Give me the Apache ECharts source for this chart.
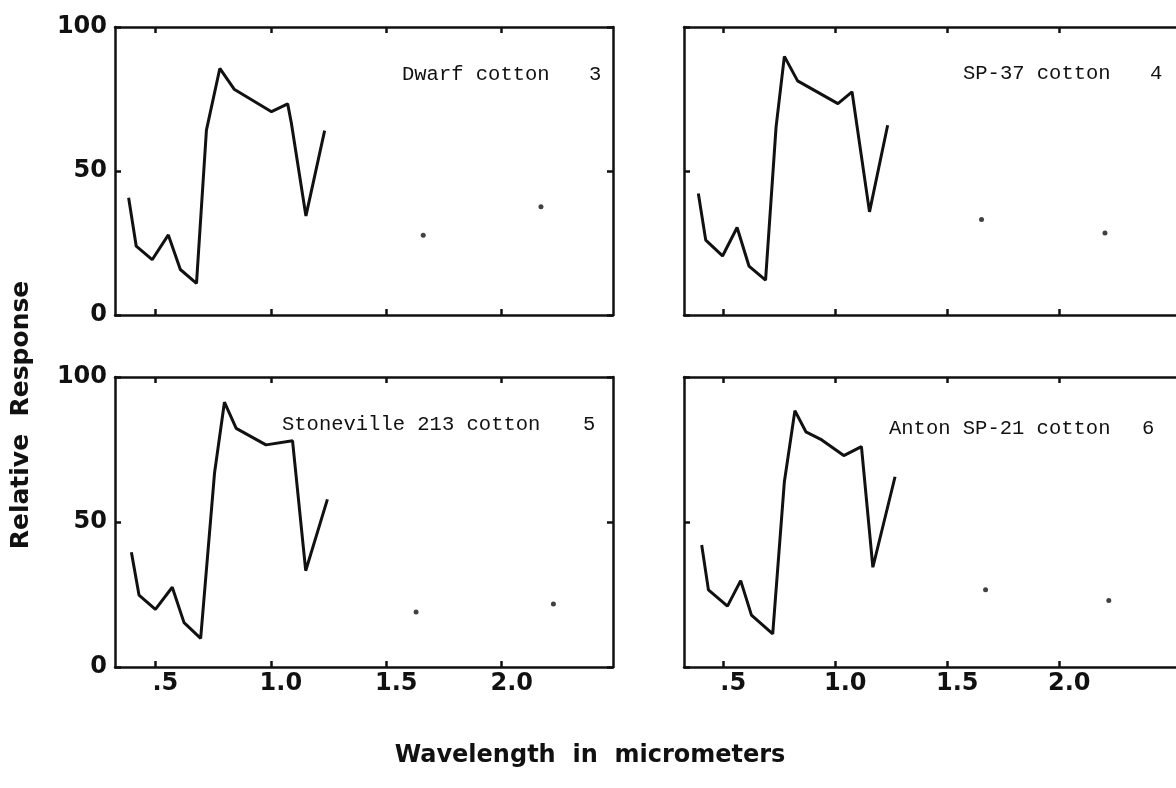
<!DOCTYPE html>
<html>
<head>
<meta charset="utf-8">
<title>Relative response of cotton leaves</title>
<script src="https://cdn.jsdelivr.net/npm/echarts@6/dist/echarts.min.js"></script>
<style>
  html, body { margin: 0; padding: 0; background: #fff; }
  #chart { width: 1176px; height: 788px; }
</style>
</head>
<body>
<div id="chart"></div>
<script>
// wavelength (micrometers) / relative response
const dwarfWl = [0.384, 0.417, 0.486, 0.556, 0.608, 0.678, 0.721, 0.779, 0.841, 1.003, 1.073, 1.089, 1.152, 1.233]
const dwarfResp = [40.7, 23.9, 19.2, 27.8, 15.8, 11.0, 64.2, 85.6, 78.4, 70.6, 73.3, 66.6, 34.4, 64.0]
const dwarfDots = [[1.66, 27.7], [2.17, 37.6]]

const sp37Wl = [0.389, 0.422, 0.497, 0.562, 0.615, 0.689, 0.736, 0.773, 0.832, 1.012, 1.075, 1.153, 1.234]
const sp37Resp = [42.2, 26.0, 20.5, 30.4, 17.0, 12.1, 65.3, 89.8, 81.3, 73.4, 77.5, 35.8, 65.9]
const sp37Dots = [[1.653, 33.2], [2.204, 28.5]]

const stonevilleWl = [0.396, 0.429, 0.5, 0.573, 0.624, 0.696, 0.756, 0.799, 0.85, 0.979, 1.094, 1.151, 1.245]
const stonevilleResp = [39.6, 24.8, 19.9, 27.5, 15.3, 9.9, 66.8, 91.3, 82.3, 76.6, 78.0, 33.2, 57.8]
const stonevilleDots = [[1.629, 19.0], [2.224, 21.7]]

const antonWl = [0.404, 0.434, 0.519, 0.578, 0.626, 0.721, 0.773, 0.82, 0.869, 0.94, 1.038, 1.117, 1.168, 1.267]
const antonResp = [42.1, 26.6, 21.0, 29.8, 17.9, 11.4, 63.9, 88.4, 81.1, 78.3, 72.9, 76.0, 34.4, 65.6]
const antonDots = [[1.671, 26.6], [2.221, 22.9]]

const xTickValues = [0.5, 1.0, 1.5, 2.0]
const xTickLabels = ['.5', '1.0', '1.5', '2.0']

const panels = [
  { label: 'Dwarf cotton', num: '3', wl: dwarfWl, resp: dwarfResp, dots: dwarfDots },
  { label: 'SP-37 cotton', num: '4', wl: sp37Wl, resp: sp37Resp, dots: sp37Dots },
  { label: 'Stoneville 213 cotton', num: '5', wl: stonevilleWl, resp: stonevilleResp, dots: stonevilleDots },
  { label: 'Anton SP-21 cotton', num: '6', wl: antonWl, resp: antonResp, dots: antonDots }
]

// panel boxes (right hand panels run off the page like in the scan)
const boxes = [
  { left: 115, top: 27, width: 498, height: 288, xMax: 2.482 },
  { left: 684, top: 27, width: 497, height: 288, xMax: 2.521 },
  { left: 115, top: 377, width: 498, height: 290, xMax: 2.482 },
  { left: 684, top: 377, width: 497, height: 290, xMax: 2.521 }
]
// where the typed panel labels sit
const labelPos = [
  { x: 402, y: 75, nx: 589 },
  { x: 963, y: 74, nx: 1150 },
  { x: 282, y: 425, nx: 583 },
  { x: 889, y: 429, nx: 1142 }
]

const ink = '#111'
const tickFont = { color: ink, fontFamily: 'DejaVu Sans', fontWeight: 'bold', fontSize: 24 }
const typeFont = '20.5px "Liberation Mono", "DejaVu Sans Mono", monospace'

const chart = echarts.init(document.getElementById('chart'))

const grid = []
const xAxis = []
const yAxis = []
const series = []
const graphic = []

panels.forEach((p, i) => {
  const b = boxes[i]
  const leftSide = i % 2 === 0
  grid.push({ left: b.left, top: b.top, width: b.width, height: b.height, show: false })

  const lineStyle = { color: ink, width: 2.5 }
  const xBase = {
    gridIndex: i, type: 'value', min: 0.325, max: b.xMax,
    axisLine: { show: true, onZero: false, lineStyle },
    axisTick: { show: true, inside: true, length: 6, customValues: xTickValues, lineStyle },
    splitLine: { show: false }
  }
  xAxis.push(Object.assign({}, xBase, {
    position: 'bottom',
    axisLabel: Object.assign({
      show: i >= 2, customValues: xTickValues, margin: 5, padding: [0, 0, 0, 20],
      formatter: v => xTickLabels[xTickValues.indexOf(v)]
    }, tickFont)
  }))
  xAxis.push(Object.assign({}, xBase, { position: 'top', axisLabel: { show: false } }))

  const yBase = {
    gridIndex: i, type: 'value', min: 0, max: 100, interval: 50,
    axisLine: { show: true, onZero: false, lineStyle },
    axisTick: { show: true, inside: true, length: 6, lineStyle },
    splitLine: { show: false }
  }
  yAxis.push(Object.assign({}, yBase, {
    position: 'left',
    axisLabel: Object.assign({ show: leftSide, margin: 8 }, tickFont)
  }))
  // right edge of the right panels is cut off in the scan
  yAxis.push(Object.assign({}, yBase, { position: 'right', show: leftSide, axisLabel: { show: false } }))

  series.push({
    type: 'line', xAxisIndex: 2 * i, yAxisIndex: 2 * i,
    data: p.wl.map((w, k) => [w, p.resp[k]]),
    symbol: 'none', lineStyle: { color: ink, width: 3 }, silent: true
  })
  series.push({
    type: 'scatter', xAxisIndex: 2 * i, yAxisIndex: 2 * i,
    data: p.dots, symbolSize: 5, itemStyle: { color: ink }, silent: true
  })

  const lp = labelPos[i]
  graphic.push({
    type: 'text', x: lp.x, y: lp.y,
    style: { text: p.label, font: typeFont, fill: ink, verticalAlign: 'middle' }
  })
  graphic.push({
    type: 'text', x: lp.nx, y: lp.y,
    style: { text: p.num, font: typeFont, fill: ink, verticalAlign: 'middle' }
  })
})

// axis titles, shared by all four panels
graphic.push({
  type: 'text', x: 590, y: 756,
  style: { text: 'Wavelength  in  micrometers', font: 'bold 24px "DejaVu Sans"', fill: ink, align: 'center', verticalAlign: 'middle' }
})
graphic.push({
  type: 'text', x: 21, y: 415, rotation: Math.PI / 2,
  style: { text: 'Relative  Response', font: 'bold 25px "DejaVu Sans"', fill: ink, align: 'center', verticalAlign: 'middle' }
})

chart.setOption({
  animation: false,
  backgroundColor: '#fff',
  grid, xAxis, yAxis, series, graphic
})
</script>
</body>
</html>
